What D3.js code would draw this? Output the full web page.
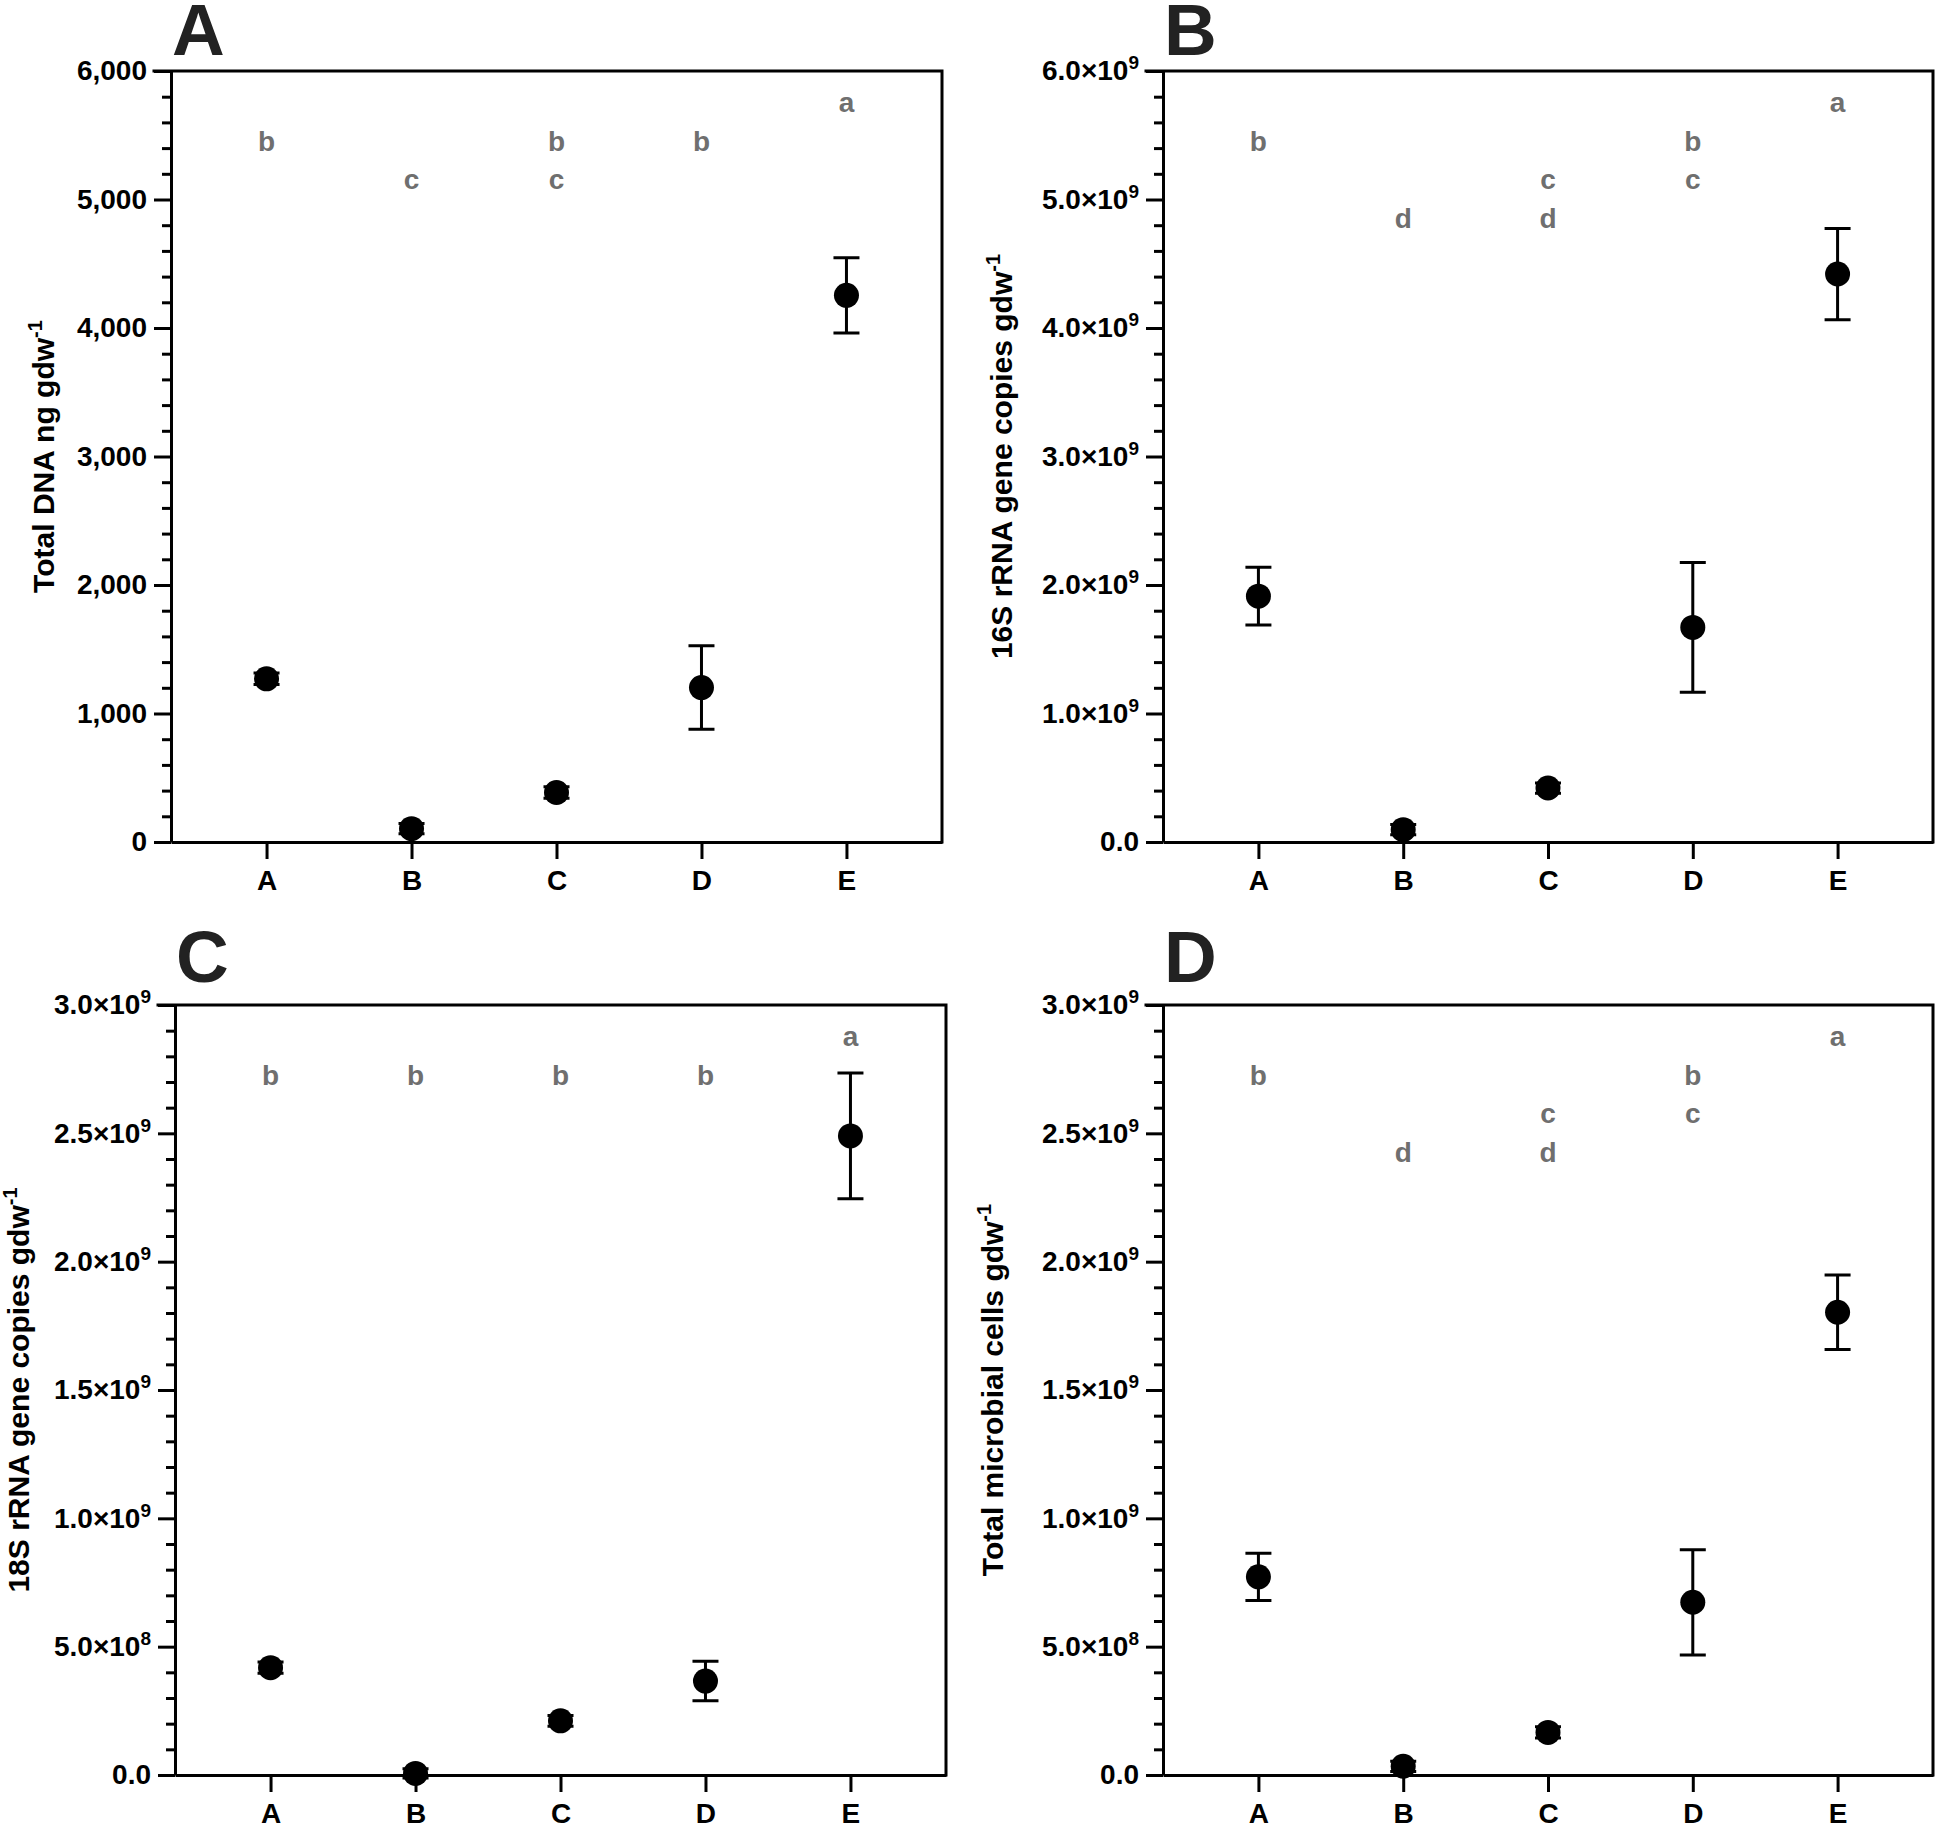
<!DOCTYPE html>
<html>
<head>
<meta charset="utf-8">
<script src="https://cdn.jsdelivr.net/npm/d3@7/dist/d3.min.js"></script>
<style>
  html, body { margin: 0; padding: 0; background: #fff; }
  svg { display: block; }
  text { font-family: Arial, "Liberation Sans", Helvetica, sans-serif; font-weight: bold; }
</style>
</head>
<body>
<svg id="chart" width="1937" height="1827"></svg>
<script>
// ---------- data ----------
const categories = ["A", "B", "C", "D", "E"];

const dnaMean = [1270, 104, 385, 1202, 4254];
const dnaErr  = [45, 40, 45, 325, 292];
const dnaLetters = [["b"], ["c"], ["b", "c"], ["b"], ["a"]];
const dnaTicks = [0, 1000, 2000, 3000, 4000, 5000, 6000];

const s16Mean = [1.913e9, 0.096e9, 0.42e9, 1.67e9, 4.42e9];
const s16Err  = [0.225e9, 0.04e9, 0.04e9, 0.505e9, 0.355e9];
const s16Letters = [["b"], ["d"], ["c", "d"], ["b", "c"], ["a"]];
const s16Ticks = [0, 1e9, 2e9, 3e9, 4e9, 5e9, 6e9];

const s18Mean = [0.418e9, 0.006e9, 0.211e9, 0.366e9, 2.49e9];
const s18Err  = [0.022e9, 0.018e9, 0.021e9, 0.077e9, 0.245e9];
const s18Letters = [["b"], ["b"], ["b"], ["b"], ["a"]];
const s18Ticks = [0, 0.5e9, 1e9, 1.5e9, 2e9, 2.5e9, 3e9];

const cellsMean = [0.772e9, 0.034e9, 0.166e9, 0.673e9, 1.803e9];
const cellsErr  = [0.092e9, 0.02e9, 0.022e9, 0.205e9, 0.145e9];
const cellsLetters = [["b"], ["d"], ["c", "d"], ["b", "c"], ["a"]];
const cellsTicks = [0, 0.5e9, 1e9, 1.5e9, 2e9, 2.5e9, 3e9];

const letterOrder = ["a", "b", "c", "d"];

// ---------- layout ----------
const panels = [
  { tag: "A", mean: dnaMean, err: dnaErr, letters: dnaLetters, ticks: dnaTicks, minorStep: 200, fmt: "comma",
    title: "Total DNA ng gdw", left: 171, top: 71, right: 942, bottom: 842, titleOffset: 117, tagBase: 55 },
  { tag: "B", mean: s16Mean, err: s16Err, letters: s16Letters, ticks: s16Ticks, minorStep: 0.2e9, fmt: "sci",
    title: "16S rRNA gene copies gdw", left: 1163, top: 71, right: 1933, bottom: 842, titleOffset: 151, tagBase: 55 },
  { tag: "C", mean: s18Mean, err: s18Err, letters: s18Letters, ticks: s18Ticks, minorStep: 0.1e9, fmt: "sci",
    title: "18S rRNA gene copies gdw", left: 175, top: 1005, right: 946, bottom: 1775, titleOffset: 146, tagBase: 982 },
  { tag: "D", mean: cellsMean, err: cellsErr, letters: cellsLetters, ticks: cellsTicks, minorStep: 0.1e9, fmt: "sci",
    title: "Total microbial cells gdw", left: 1163, top: 1005, right: 1933, bottom: 1775, titleOffset: 160, tagBase: 982 }
];

const svg = d3.select("#chart");
const AX_W = 3;
const R = 12.5;
const CAP = 13;

function sciLabel(sel) {
  sel.each(function(d) {
    const t = d3.select(this);
    t.text(null);
    if (d === 0) { t.text("0.0"); return; }
    const e = Math.floor(Math.log10(d) + 1e-9);
    const m = d / Math.pow(10, e);
    t.append("tspan").text(m.toFixed(1) + "×10");
    t.append("tspan").attr("font-size", 19).attr("dy", -11).text(e);
  });
}

panels.forEach(p => {
  const g = svg.append("g");
  const yMax = p.ticks[p.ticks.length - 1];
  const x = d3.scalePoint().domain(categories).range([p.left, p.right]).padding(0.659);
  const y = d3.scaleLinear().domain([0, yMax]).range([p.bottom, p.top]);

  // minor ticks
  const minor = d3.range(0, yMax + p.minorStep / 2, p.minorStep).filter(v => !p.ticks.some(t => Math.abs(t - v) < p.minorStep / 10));
  g.append("g").attr("transform", `translate(${p.left},0)`)
    .call(d3.axisLeft(y).tickValues(minor).tickSize(9).tickFormat(""))
    .call(a => a.select(".domain").remove())
    .call(a => a.selectAll("line").attr("stroke", "#000").attr("stroke-width", AX_W));

  // major y axis
  const yAxis = d3.axisLeft(y).tickValues(p.ticks).tickSize(17).tickPadding(7).tickSizeOuter(0);
  if (p.fmt === "comma") yAxis.tickFormat(d3.format(","));
  const ya = g.append("g").attr("transform", `translate(${p.left},0)`).call(yAxis);
  ya.select(".domain").attr("stroke", "#000").attr("stroke-width", AX_W);
  ya.selectAll("line").attr("stroke", "#000").attr("stroke-width", AX_W);
  ya.selectAll("text").attr("font-size", 28).attr("fill", "#000").attr("font-family", "Arial, 'Liberation Sans', sans-serif").attr("font-weight", "bold");
  if (p.fmt === "sci") ya.selectAll(".tick text").call(sciLabel);

  // x axis
  const xa = g.append("g").attr("transform", `translate(0,${p.bottom})`)
    .call(d3.axisBottom(x).tickSize(17).tickPadding(11).tickSizeOuter(0));
  xa.select(".domain").attr("stroke", "#000").attr("stroke-width", AX_W);
  xa.selectAll("line").attr("stroke", "#000").attr("stroke-width", AX_W);
  xa.selectAll("text").attr("font-size", 28).attr("fill", "#000").attr("font-family", "Arial, 'Liberation Sans', sans-serif").attr("font-weight", "bold");

  // box top & right
  g.append("path")
    .attr("d", `M${p.left - 17},${y(yMax)}H${p.right}V${p.bottom}`)
    .attr("fill", "none").attr("stroke", "#000").attr("stroke-width", AX_W).attr("stroke-linecap", "square");

  // y title
  const tt = g.append("text")
    .attr("transform", `translate(${p.left - p.titleOffset},${(p.top + p.bottom) / 2}) rotate(-90)`)
    .attr("text-anchor", "middle").attr("font-size", 30).attr("fill", "#000");
  tt.append("tspan").text(p.title);
  tt.append("tspan").attr("font-size", 20).attr("dy", -12).text("-1");

  // panel tag
  g.append("text").attr("x", p.left + 1).attr("y", p.tagBase)
    .attr("font-size", 73).attr("fill", "#222").text(p.tag);

  // letters
  p.letters.forEach((arr, i) => {
    arr.forEach(l => {
      g.append("text")
        .attr("x", x(categories[i]))
        .attr("y", p.top + 41 + letterOrder.indexOf(l) * 38.5)
        .attr("text-anchor", "middle").attr("font-size", 28).attr("fill", "#6f6f6f").text(l);
    });
  });

  // error bars
  const pts = categories.map((c, i) => ({ c, m: p.mean[i], e: p.err[i] }));
  const eb = g.append("g").attr("stroke", "#000").attr("stroke-width", AX_W).attr("fill", "none");
  eb.selectAll("path").data(pts).join("path")
    .attr("d", d => {
      const cx = x(d.c), y1 = y(d.m + d.e), y0 = y(d.m - d.e);
      return `M${cx - CAP},${y1}H${cx + CAP}M${cx},${y1}V${y0}M${cx - CAP},${y0}H${cx + CAP}`;
    });

  // points
  g.append("g").selectAll("circle").data(pts).join("circle")
    .attr("cx", d => x(d.c)).attr("cy", d => y(d.m)).attr("r", R).attr("fill", "#000");
});
</script>
</body>
</html>
